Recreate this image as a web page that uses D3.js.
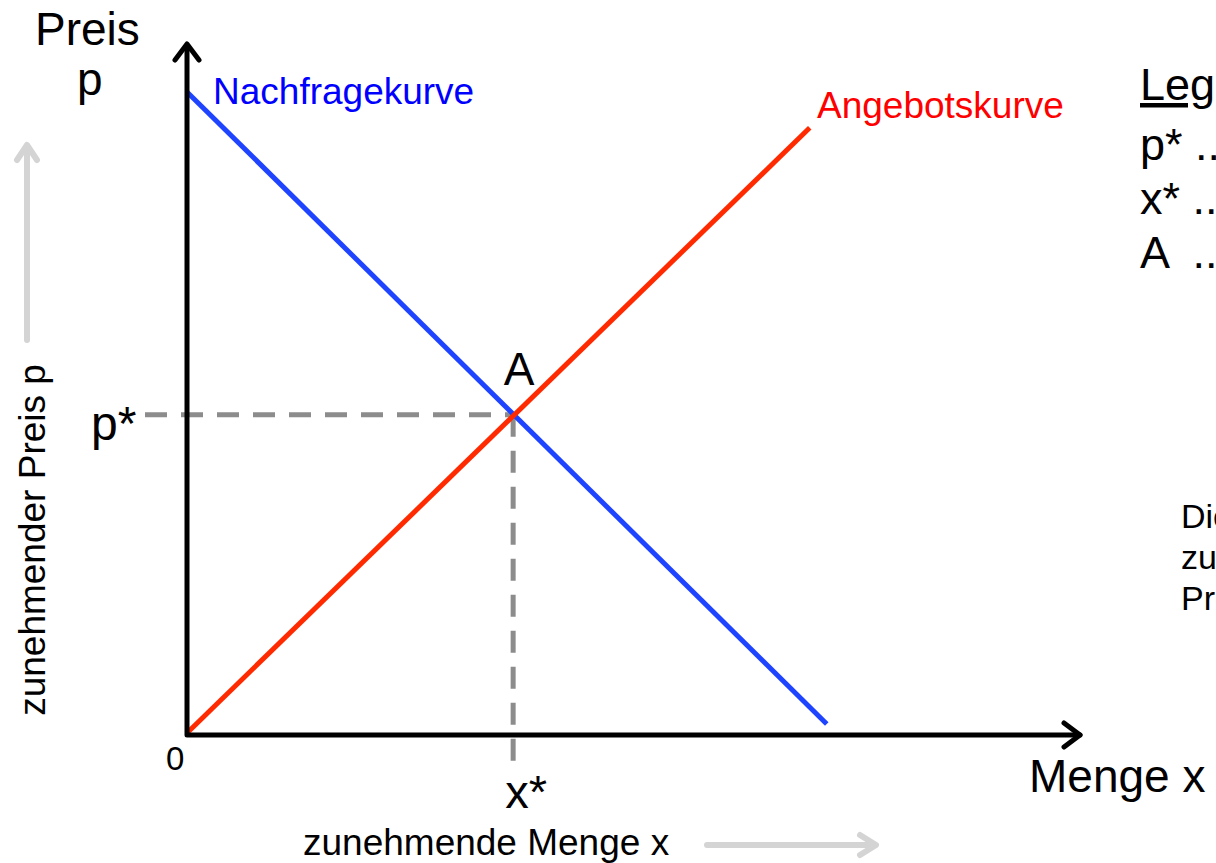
<!DOCTYPE html>
<html>
<head>
<meta charset="utf-8">
<script src="https://cdn.jsdelivr.net/npm/d3@7"></script>
<style>
  body { margin: 0; background: #fff; overflow: hidden; }
  svg { display: block; font-family: "Liberation Sans", Arial, sans-serif; }
</style>
</head>
<body>
<div id="chart"></div>
<script>
// curves in chart units (x: Menge 0..100, y: Preis 0..100)
var nachfrage = [{x: 0, y: 93.2}, {x: 71.4, y: 1.6}];
var angebot = [{x: 0, y: 0.3}, {x: 69.5, y: 88.0}];
var gleichgewicht = {x: 36.4, y: 46.4};

var legendLines = ["p* ... Gleichgewichtspreis", "x* ... Gleichgewichtsmenge", "A  ... Gleichgewichtspunkt"];
var noteLines = ["Die Nachfrage sinkt mit", "zunehmendem", "Preis"];

var width = 1216, height = 863;

var svg = d3.select('#chart')
    .append('svg')
    .attr('width', width)
    .attr('height', height)

var x = d3.scaleLinear().domain([0, 100]).range([187, 1083])
var y = d3.scaleLinear().domain([0, 100]).range([735, 45])

var line = d3.line()
    .x(function(d) { return x(d.x) })
    .y(function(d) { return y(d.y) })

// grey helper arrows
var grey = svg.append('g')
    .attr('stroke', '#d4d4d4')
    .attr('stroke-width', 6)
    .attr('fill', 'none')
    .attr('stroke-linecap', 'round')
    .attr('stroke-linejoin', 'round')
grey.append('line').attr('x1', 27).attr('y1', 340).attr('x2', 27).attr('y2', 146)
grey.append('path').attr('d', 'M17,160 L27,145 L37,160')
grey.append('line').attr('x1', 707).attr('y1', 845).attr('x2', 875).attr('y2', 845)
grey.append('path').attr('d', 'M860,835 L876,845 L860,855')

// dashed guide lines
svg.append('line')
    .attr('x1', 145).attr('y1', y(gleichgewicht.y))
    .attr('x2', x(gleichgewicht.x)).attr('y2', y(gleichgewicht.y))
    .attr('stroke', '#8c8c8c').attr('stroke-width', 5)
    .attr('stroke-dasharray', '22,14')
svg.append('line')
    .attr('x1', x(gleichgewicht.x)).attr('y1', y(gleichgewicht.y))
    .attr('x2', x(gleichgewicht.x)).attr('y2', 768)
    .attr('stroke', '#8c8c8c').attr('stroke-width', 5)
    .attr('stroke-dasharray', '22,14')

// curves
svg.append('path').datum(nachfrage)
    .attr('d', line)
    .attr('stroke', '#1f44ff').attr('stroke-width', 5).attr('fill', 'none')
svg.append('path').datum(angebot)
    .attr('d', line)
    .attr('stroke', '#ff2a00').attr('stroke-width', 5).attr('fill', 'none')

// axes with arrow heads
var axes = svg.append('g')
    .attr('stroke', '#000')
    .attr('stroke-width', 5)
    .attr('fill', 'none')
    .attr('stroke-linecap', 'round')
    .attr('stroke-linejoin', 'round')
axes.append('path').attr('d', 'M' + x(0) + ',' + y(0) + ' V46 M' + x(0) + ',' + y(0) + ' H1080')
axes.append('path').attr('d', 'M175,60 L187,44 L199,60')
axes.append('path').attr('d', 'M1064,723 L1080,735 L1064,747')

// texts
function txt(t, tx, ty, size, color, anchor) {
    return svg.append('text')
        .attr('x', tx).attr('y', ty)
        .attr('font-size', size)
        .attr('fill', color || '#000')
        .attr('text-anchor', anchor || 'start')
        .text(t)
}

txt('Preis', 35, 45, 46)
txt('p', 77, 95, 46)
txt('Nachfragekurve', 213, 104, 37, '#0000ff')
txt('Angebotskurve', 817, 118, 37, '#ff0000')
txt('A', x(gleichgewicht.x) + 6, 385, 46, '#000', 'middle')
txt('p*', 91, 440, 48)
txt('0', 166, 770, 33)
txt('x*', x(gleichgewicht.x) + 13, 808, 47, '#000', 'middle')
txt('Menge x', 1029, 792, 46)
txt('zunehmende Menge x', 303, 855, 37)

svg.append('text')
    .attr('transform', 'translate(45,540) rotate(-90)')
    .attr('text-anchor', 'middle')
    .attr('font-size', 37)
    .text('zunehmender Preis p')

// legend (cut at the right edge, as in the source picture)
txt('Legende:', 1140, 100, 45).attr('text-decoration', 'underline')
svg.selectAll('.leg')
    .data(legendLines)
    .enter()
    .append('text')
    .attr('class', 'leg')
    .attr('x', 1140)
    .attr('y', function(d, i) { return 160 + i * 54 })
    .attr('font-size', 45)
    .attr('xml:space', 'preserve')
    .text(function(d) { return d })

svg.selectAll('.note')
    .data(noteLines)
    .enter()
    .append('text')
    .attr('class', 'note')
    .attr('x', 1181)
    .attr('y', function(d, i) { return 528 + i * 41 })
    .attr('font-size', 34)
    .text(function(d) { return d })
</script>
</body>
</html>
